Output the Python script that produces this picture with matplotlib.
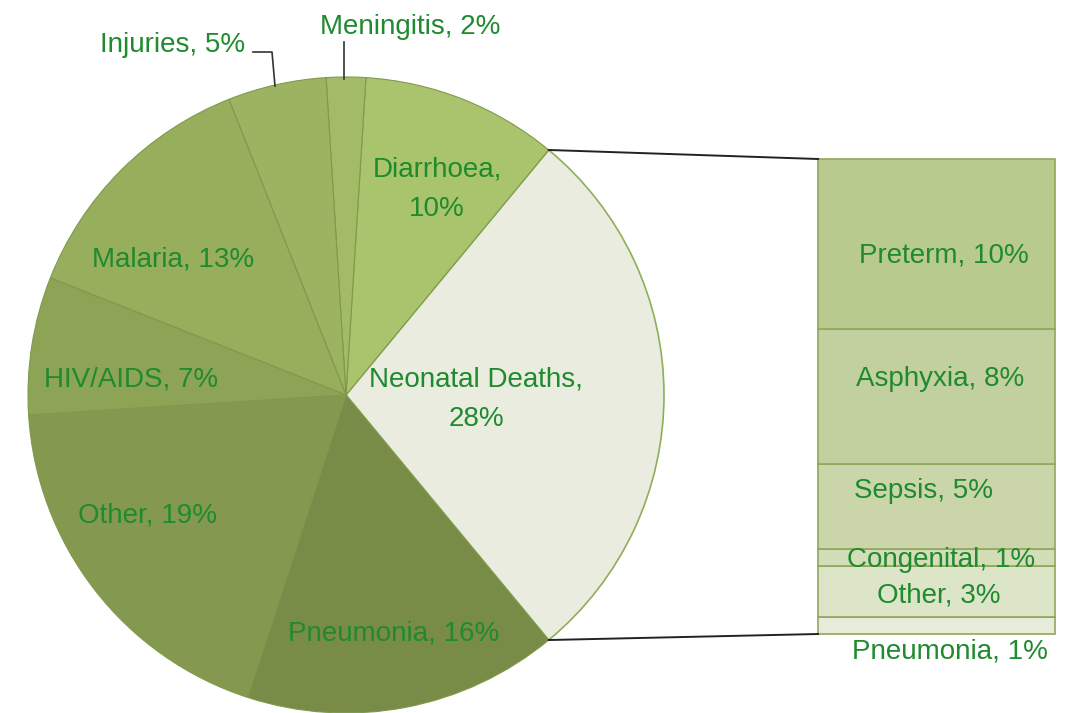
import numpy as np
import matplotlib.pyplot as plt

# pie data (starting with the exploded-out slice, counter-clockwise)
causes = ['Neonatal Deaths', 'Diarrhoea', 'Meningitis', 'Injuries', 'Malaria',
          'HIV/AIDS', 'Other', 'Pneumonia']
shares = [28, 10, 2, 5, 13, 7, 19, 16]
pie_colors = ['#e9ecdf', '#a9c46c', '#a3bb67', '#9cb362', '#97ae5d',
              '#8da457', '#84994f', '#788c47']

# neonatal breakdown, bottom to top
neo_causes = ['Pneumonia', 'Other', 'Congenital', 'Sepsis', 'Asphyxia', 'Preterm']
neo_shares = [1, 3, 1, 5, 8, 10]
bar_colors = ['#e6ebda', '#dde5c9', '#d3ddb8', '#cad6a9', '#c2d0a0', '#b9ca8f']

txt = '#1f8a2e'
plt.rcParams['font.family'] = ['Liberation Sans', 'DejaVu Sans']

fig = plt.figure(figsize=(10.68, 7.13), dpi=100)
ax = fig.add_axes([0, 0, 1, 1])

cx, cy, r = 346, 318, 318
start = -shares[0] / 100 * 360 / 2
wedges, _ = ax.pie(shares, colors=pie_colors, startangle=start, counterclock=True,
                   center=(cx, cy), radius=r, frame=True,
                   wedgeprops=dict(edgecolor='#7f9a4c', linewidth=0.8))
wedges[0].set_edgecolor('#8fae5a')
wedges[0].set_linewidth(1.2)
ax.set_xlim(0, 1068)
ax.set_ylim(0, 713)
ax.set_aspect('equal')
ax.axis('off')

# stacked bar for the neonatal breakdown
bx0, bx1, by0, by1 = 818, 1055, 79, 554
scale = (by1 - by0) / sum(neo_shares)
bottom = by0
for s, c in zip(neo_shares, bar_colors):
    ax.bar((bx0 + bx1) / 2, s * scale, width=bx1 - bx0, bottom=bottom,
           color=c, edgecolor='#8fa85a', linewidth=1.2)
    bottom += s * scale

# connector lines
a = np.deg2rad(start)
for sign, yb in [(1, by0), (-1, by1)]:
    px = cx + r * np.cos(a)
    py = cy + sign * r * np.sin(a)
    ax.plot([px, bx0], [py, yb], color='#222222', lw=1.4)

fs = 20
def lab(x, y, s, **kw):
    ax.text(x, 713 - y, s, color=txt, fontsize=fs, ha='center', va='center',
            linespacing=1.65, **kw)

pie_pos = [(476, 399), (437, 189), (410, 27), (173, 45), (173, 260),
           (131, 380), (147, 516), (394, 634)]
for name, s, (x, y) in zip(causes, shares, pie_pos):
    if name in ('Neonatal Deaths', 'Diarrhoea'):
        lab(x, y, f'{name},\n{s}%')
    else:
        lab(x, y, f'{name}, {s}%')

bar_pos = [(950, 651), (939, 596), (941, 560), (924, 491), (940, 379), (944, 255)]
for name, s, (x, y) in zip(neo_causes, neo_shares, bar_pos):
    lab(x, y, f'{name}, {s}%')

# leader lines for small slices
ax.plot([253, 272, 275], [713 - 52, 713 - 52, 713 - 86], color='#333333', lw=1.2)
ax.plot([344, 344], [713 - 42, 713 - 79], color='#333333', lw=1.2)

fig.savefig('out.png', dpi=100, facecolor='white')
